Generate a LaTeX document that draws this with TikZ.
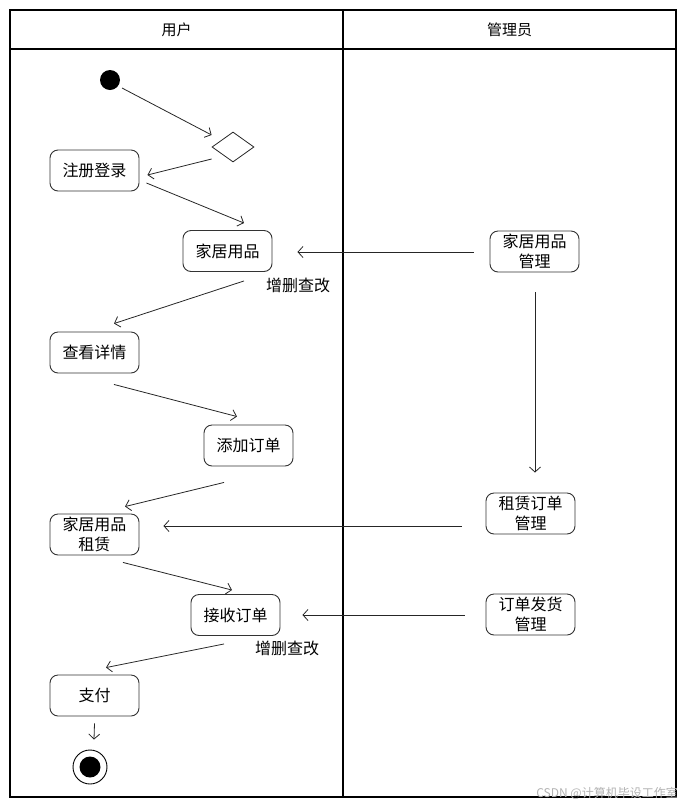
\documentclass[tikz,border=0pt]{standalone}
\usepackage{fontspec}
\newfontfamily\cjk{Noto Sans CJK SC}
\usetikzlibrary{arrows.meta,shapes.geometric,calc}
\begin{document}
\begin{tikzpicture}[x=1pt,y=-1pt,
  act/.style={draw=black!80,line width=0.9pt,rounded corners=8pt,minimum width=89pt,minimum height=41pt,inner sep=1pt,align=center,font=\cjk\fontsize{16}{20}\selectfont},
  lbl/.style={font=\cjk\fontsize{16}{20}\selectfont,inner sep=0pt},
  arr/.style={draw=black!85,line width=0.8pt,-{Straight Barb[length=5pt,width=11pt]}},
  frame/.style={line width=2pt,draw=black}]
\useasboundingbox (0,0) rectangle (687,807);
% swimlanes
\draw[frame] (10,10) rectangle (676,797);
\draw[frame] (10,49) -- (676,49);
\draw[frame] (343,10) -- (343,797);
\node[font=\cjk\fontsize{15}{18}\selectfont] (hu) at (176.5,29.5) {用户};
\node[font=\cjk\fontsize{15}{18}\selectfont] (ha) at (509.5,29.5) {管理员};
% nodes
\node[circle,fill=black,minimum size=20pt,inner sep=0pt] (start) at (110,80) {};
\node[diamond,draw=black!85,line width=0.8pt,minimum width=42pt,minimum height=30pt,inner sep=0pt] (diam) at (233,147) {};
\node[act] (reg) at (94.5,170.5) {注册登录};
\node[act] (home) at (227.5,251) {家居用品};
\node[lbl] (crud1) at (298,285) {增删查改};
\node[act] (admin1) at (534.5,251.5) {家居用品\\管理};
\node[act] (view) at (94.5,352.5) {查看详情};
\node[act] (add) at (248.5,445.5) {添加订单};
\node[act] (rent) at (94.5,534.5) {家居用品\\租赁};
\node[act] (rentmgr) at (530.5,513.5) {租赁订单\\管理};
\node[act] (recv) at (235.5,615) {接收订单};
\node[lbl] (crud2) at (287,648) {增删查改};
\node[act] (ship) at (530.5,614.5) {订单发货\\管理};
\node[act] (pay) at (94.5,695.5) {支付};
\node[circle,draw=black,line width=0.9pt,minimum size=34pt,inner sep=0pt] (endc) at (90,767) {};
\node[circle,fill=black,minimum size=21pt,inner sep=0pt] (endi) at (endc) {};
% connectors
\draw[arr] ($(start)+(12,8)$) -- ($(diam.west)+(0,-12)$);
\draw[arr] ($(diam.west)+(0,12)$) -- ($(reg.east)+(8,4.5)$);
\draw[arr] ($(reg.east)+(7,12.5)$) -- ($(home.north)+(16.5,-7)$);
\draw[arr] ($(admin1.west)+(-16,0.5)$) -- ($(home.east)+(25,1)$);
\draw[arr] ($(home.south)+(16.5,9)$) -- ($(view.north)+(19.5,-8)$);
\draw[arr] ($(view.south)+(19.5,11)$) -- ($(add.north)+(-11.5,-8)$);
\draw[arr] ($(add.south)+(-24.5,16)$) -- ($(rent.north)+(30.5,-7)$);
\draw[arr] ($(rentmgr.west)+(-24,12.5)$) -- ($(rent.east)+(24,-8.5)$);
\draw[arr] ($(admin1.south)+(0.5,20)$) -- ($(rentmgr.north)+(4.5,-20)$);
\draw[arr] ($(rent.south)+(28.5,7)$) -- ($(recv.north)+(-3.5,-4)$);
\draw[arr] ($(ship.west)+(-21,0.5)$) -- ($(recv.east)+(22,0)$);
\draw[arr] ($(recv.south)+(-11.5,8)$) -- ($(pay.north)+(11.5,-7)$);
\draw[arr] ($(pay.south)+(0,7)$) -- ($(endc.north)+(4,-10)$);
% watermark
\node[font=\cjk\fontsize{12}{14}\selectfont,text=black!30,anchor=east,inner sep=0pt] (wm) at (678,793) {CSDN @计算机毕设工作室};
\end{tikzpicture}
\end{document}
